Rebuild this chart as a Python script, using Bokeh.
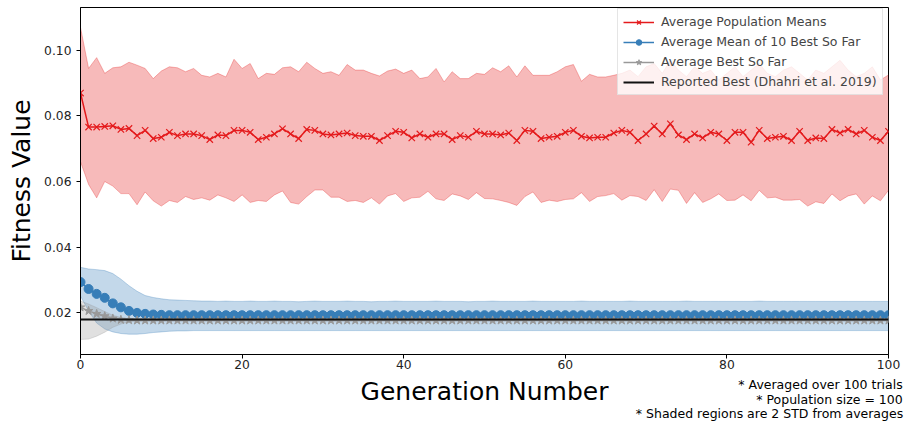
from bokeh.plotting import figure
from bokeh.models import (Legend, LegendItem, FixedTicker, Range1d, PrintfTickFormatter,
                          LinearAxis)
from bokeh.embed import file_html
from bokeh.resources import INLINE

generations = list(range(101))

pop_mean = [0.0870,
    0.0766, 0.0766, 0.0768, 0.0770, 0.0759, 0.0762, 0.0740, 0.0756, 0.0731, 0.0735,
    0.0750, 0.0740, 0.0745, 0.0745, 0.0740, 0.0728, 0.0742, 0.0740, 0.0756, 0.0756,
    0.0750, 0.0728, 0.0735, 0.0745, 0.0761, 0.0745, 0.0731, 0.0759, 0.0756, 0.0745,
    0.0742, 0.0745, 0.0748, 0.0740, 0.0738, 0.0738, 0.0725, 0.0740, 0.0753, 0.0750,
    0.0733, 0.0745, 0.0735, 0.0745, 0.0745, 0.0728, 0.0740, 0.0735, 0.0753, 0.0745,
    0.0745, 0.0742, 0.0748, 0.0725, 0.0756, 0.0753, 0.0731, 0.0735, 0.0738, 0.0750,
    0.0756, 0.0738, 0.0733, 0.0735, 0.0735, 0.0748, 0.0756, 0.0750, 0.0725, 0.0745,
    0.0769, 0.0745, 0.0776, 0.0742, 0.0728, 0.0745, 0.0733, 0.0750, 0.0745, 0.0725,
    0.0750, 0.0750, 0.0720, 0.0756, 0.0731, 0.0735, 0.0738, 0.0725, 0.0753, 0.0725,
    0.0733, 0.0731, 0.0759, 0.0748, 0.0759, 0.0745, 0.0756, 0.0735, 0.0725, 0.0753]

pop_upper = [0.1070,
    0.0945, 0.0978, 0.0930, 0.0947, 0.0950, 0.0964, 0.0955, 0.0945, 0.0914, 0.0937,
    0.0950, 0.0947, 0.0935, 0.0945, 0.0924, 0.0919, 0.0930, 0.0919, 0.0973, 0.0945,
    0.0960, 0.0914, 0.0930, 0.0927, 0.0947, 0.0950, 0.0935, 0.0964, 0.0945, 0.0930,
    0.0935, 0.0924, 0.0957, 0.0940, 0.0940, 0.0930, 0.0922, 0.0937, 0.0943, 0.0930,
    0.0940, 0.0914, 0.0919, 0.0945, 0.0904, 0.0935, 0.0914, 0.0914, 0.0930, 0.0927,
    0.0947, 0.0935, 0.0953, 0.0919, 0.0953, 0.0924, 0.0924, 0.0924, 0.0935, 0.0950,
    0.0957, 0.0906, 0.0927, 0.0919, 0.0919, 0.0924, 0.0930, 0.0940, 0.0920, 0.0950,
    0.0960, 0.0930, 0.0970, 0.0940, 0.0920, 0.0950, 0.0930, 0.0940, 0.0910, 0.0930,
    0.0950, 0.0920, 0.0940, 0.0960, 0.0930, 0.0920, 0.0940, 0.0950, 0.0930, 0.0910,
    0.0940, 0.0930, 0.0950, 0.0970, 0.0940, 0.0920, 0.0930, 0.0950, 0.0910, 0.0925]

pop_lower = [0.0660,
    0.0591, 0.0550, 0.0600, 0.0586, 0.0563, 0.0563, 0.0529, 0.0568, 0.0541, 0.0525,
    0.0542, 0.0536, 0.0554, 0.0545, 0.0550, 0.0543, 0.0559, 0.0550, 0.0539, 0.0559,
    0.0536, 0.0542, 0.0539, 0.0559, 0.0571, 0.0536, 0.0531, 0.0554, 0.0574, 0.0574,
    0.0552, 0.0552, 0.0539, 0.0542, 0.0536, 0.0550, 0.0531, 0.0556, 0.0563, 0.0539,
    0.0550, 0.0552, 0.0570, 0.0547, 0.0542, 0.0562, 0.0556, 0.0545, 0.0566, 0.0548,
    0.0547, 0.0542, 0.0536, 0.0527, 0.0554, 0.0568, 0.0536, 0.0543, 0.0539, 0.0545,
    0.0547, 0.0566, 0.0539, 0.0554, 0.0557, 0.0563, 0.0543, 0.0557, 0.0554, 0.0542,
    0.0575, 0.0539, 0.0577, 0.0573, 0.0533, 0.0566, 0.0536, 0.0547, 0.0562, 0.0542,
    0.0543, 0.0559, 0.0541, 0.0573, 0.0550, 0.0552, 0.0543, 0.0543, 0.0545, 0.0525,
    0.0538, 0.0533, 0.0562, 0.0541, 0.0556, 0.0562, 0.0531, 0.0556, 0.0541, 0.0573]

best10_mean = [0.0293,
    0.0272, 0.0257, 0.0245, 0.0228, 0.0216, 0.0205, 0.0199, 0.0196, 0.0194, 0.0193,
    0.0192, 0.0192, 0.0192, 0.0192, 0.0192, 0.0192, 0.0192, 0.0192, 0.0192, 0.0192,
    0.0192, 0.0192, 0.0192, 0.0192, 0.0192, 0.0192, 0.0192, 0.0192, 0.0192, 0.0192,
    0.0192, 0.0192, 0.0192, 0.0192, 0.0192, 0.0192, 0.0192, 0.0192, 0.0192, 0.0192,
    0.0192, 0.0192, 0.0192, 0.0192, 0.0192, 0.0192, 0.0192, 0.0192, 0.0192, 0.0192,
    0.0192, 0.0192, 0.0192, 0.0192, 0.0192, 0.0192, 0.0192, 0.0192, 0.0192, 0.0192,
    0.0192, 0.0192, 0.0192, 0.0192, 0.0192, 0.0192, 0.0192, 0.0192, 0.0192, 0.0192,
    0.0192, 0.0192, 0.0192, 0.0192, 0.0192, 0.0192, 0.0192, 0.0192, 0.0192, 0.0192,
    0.0192, 0.0192, 0.0192, 0.0192, 0.0192, 0.0192, 0.0192, 0.0192, 0.0192, 0.0192,
    0.0192, 0.0192, 0.0192, 0.0192, 0.0192, 0.0192, 0.0192, 0.0192, 0.0192, 0.0192]

best10_upper = [0.0338,
    0.0333, 0.0331, 0.0328, 0.0319, 0.0302, 0.0282, 0.0265, 0.0252, 0.0246, 0.0242,
    0.0239, 0.0238, 0.0237, 0.0236, 0.0235, 0.0235, 0.0234, 0.0235, 0.0234, 0.0234,
    0.0235, 0.0234, 0.0234, 0.0235, 0.0234, 0.0234, 0.0233, 0.0234, 0.0235, 0.0234,
    0.0234, 0.0234, 0.0235, 0.0234, 0.0234, 0.0233, 0.0234, 0.0234, 0.0235, 0.0234,
    0.0234, 0.0234, 0.0234, 0.0235, 0.0234, 0.0234, 0.0234, 0.0233, 0.0234, 0.0234,
    0.0235, 0.0234, 0.0234, 0.0234, 0.0234, 0.0235, 0.0234, 0.0234, 0.0234, 0.0234,
    0.0234, 0.0235, 0.0234, 0.0234, 0.0234, 0.0234, 0.0234, 0.0235, 0.0234, 0.0234,
    0.0234, 0.0234, 0.0234, 0.0234, 0.0235, 0.0234, 0.0234, 0.0234, 0.0234, 0.0234,
    0.0234, 0.0234, 0.0234, 0.0235, 0.0234, 0.0234, 0.0234, 0.0234, 0.0234, 0.0234,
    0.0234, 0.0234, 0.0234, 0.0234, 0.0234, 0.0234, 0.0234, 0.0234, 0.0234, 0.0234]

best10_lower = [0.0250,
    0.0205, 0.0168, 0.0150, 0.0141, 0.0136, 0.0134, 0.0134, 0.0136, 0.0139, 0.0141,
    0.0143, 0.0144, 0.0144, 0.0145, 0.0145, 0.0145, 0.0145, 0.0145, 0.0145, 0.0145,
    0.0145, 0.0145, 0.0145, 0.0145, 0.0145, 0.0145, 0.0145, 0.0145, 0.0145, 0.0145,
    0.0145, 0.0145, 0.0145, 0.0145, 0.0145, 0.0145, 0.0145, 0.0145, 0.0145, 0.0145,
    0.0145, 0.0145, 0.0145, 0.0145, 0.0145, 0.0145, 0.0145, 0.0145, 0.0145, 0.0145,
    0.0145, 0.0145, 0.0145, 0.0145, 0.0145, 0.0145, 0.0145, 0.0145, 0.0145, 0.0145,
    0.0145, 0.0145, 0.0145, 0.0145, 0.0145, 0.0145, 0.0145, 0.0145, 0.0145, 0.0145,
    0.0145, 0.0145, 0.0145, 0.0145, 0.0145, 0.0145, 0.0145, 0.0145, 0.0145, 0.0145,
    0.0145, 0.0145, 0.0145, 0.0145, 0.0145, 0.0145, 0.0145, 0.0145, 0.0145, 0.0145,
    0.0145, 0.0145, 0.0145, 0.0145, 0.0145, 0.0145, 0.0145, 0.0145, 0.0145, 0.0145]

best_mean = [0.0216,
    0.0205, 0.0196, 0.0189, 0.0182, 0.0178, 0.0177, 0.0176, 0.0176, 0.0176, 0.0176,
    0.0176, 0.0176, 0.0176, 0.0176, 0.0176, 0.0176, 0.0176, 0.0176, 0.0176, 0.0176,
    0.0176, 0.0176, 0.0176, 0.0176, 0.0176, 0.0176, 0.0176, 0.0176, 0.0176, 0.0176,
    0.0176, 0.0176, 0.0176, 0.0176, 0.0176, 0.0176, 0.0176, 0.0176, 0.0176, 0.0176,
    0.0176, 0.0176, 0.0176, 0.0176, 0.0176, 0.0176, 0.0176, 0.0176, 0.0176, 0.0176,
    0.0176, 0.0176, 0.0176, 0.0176, 0.0176, 0.0176, 0.0176, 0.0176, 0.0176, 0.0176,
    0.0176, 0.0176, 0.0176, 0.0176, 0.0176, 0.0176, 0.0176, 0.0176, 0.0176, 0.0176,
    0.0176, 0.0176, 0.0176, 0.0176, 0.0176, 0.0176, 0.0176, 0.0176, 0.0176, 0.0176,
    0.0176, 0.0176, 0.0176, 0.0176, 0.0176, 0.0176, 0.0176, 0.0176, 0.0176, 0.0176,
    0.0176, 0.0176, 0.0176, 0.0176, 0.0176, 0.0176, 0.0176, 0.0176, 0.0176, 0.0176]

best_upper = [0.0235,
    0.0226, 0.0215, 0.0203, 0.0192, 0.0185, 0.0180, 0.0178, 0.0177, 0.0177, 0.0177,
    0.0177, 0.0177, 0.0177, 0.0177, 0.0177, 0.0177, 0.0177, 0.0177, 0.0177, 0.0177,
    0.0177, 0.0177, 0.0177, 0.0177, 0.0177, 0.0177, 0.0177, 0.0177, 0.0177, 0.0177,
    0.0177, 0.0177, 0.0177, 0.0177, 0.0177, 0.0177, 0.0177, 0.0177, 0.0177, 0.0177,
    0.0177, 0.0177, 0.0177, 0.0177, 0.0177, 0.0177, 0.0177, 0.0177, 0.0177, 0.0177,
    0.0177, 0.0177, 0.0177, 0.0177, 0.0177, 0.0177, 0.0177, 0.0177, 0.0177, 0.0177,
    0.0177, 0.0177, 0.0177, 0.0177, 0.0177, 0.0177, 0.0177, 0.0177, 0.0177, 0.0177,
    0.0177, 0.0177, 0.0177, 0.0177, 0.0177, 0.0177, 0.0177, 0.0177, 0.0177, 0.0177,
    0.0177, 0.0177, 0.0177, 0.0177, 0.0177, 0.0177, 0.0177, 0.0177, 0.0177, 0.0177,
    0.0177, 0.0177, 0.0177, 0.0177, 0.0177, 0.0177, 0.0177, 0.0177, 0.0177, 0.0177]

best_lower = [0.0118,
    0.0119, 0.0128, 0.0140, 0.0155, 0.0165, 0.0172, 0.0174, 0.0175, 0.0175, 0.0175,
    0.0175, 0.0175, 0.0175, 0.0175, 0.0175, 0.0175, 0.0175, 0.0175, 0.0175, 0.0175,
    0.0175, 0.0175, 0.0175, 0.0175, 0.0175, 0.0175, 0.0175, 0.0175, 0.0175, 0.0175,
    0.0175, 0.0175, 0.0175, 0.0175, 0.0175, 0.0175, 0.0175, 0.0175, 0.0175, 0.0175,
    0.0175, 0.0175, 0.0175, 0.0175, 0.0175, 0.0175, 0.0175, 0.0175, 0.0175, 0.0175,
    0.0175, 0.0175, 0.0175, 0.0175, 0.0175, 0.0175, 0.0175, 0.0175, 0.0175, 0.0175,
    0.0175, 0.0175, 0.0175, 0.0175, 0.0175, 0.0175, 0.0175, 0.0175, 0.0175, 0.0175,
    0.0175, 0.0175, 0.0175, 0.0175, 0.0175, 0.0175, 0.0175, 0.0175, 0.0175, 0.0175,
    0.0175, 0.0175, 0.0175, 0.0175, 0.0175, 0.0175, 0.0175, 0.0175, 0.0175, 0.0175,
    0.0175, 0.0175, 0.0175, 0.0175, 0.0175, 0.0175, 0.0175, 0.0175, 0.0175, 0.0175]

reported_best = 0.0179

x_ticks = [0, 20, 40, 60, 80, 100]
y_ticks = [0.02, 0.04, 0.06, 0.08, 0.10]

legend_labels = ["Average Population Means", "Average Mean of 10 Best So Far",
                 "Average Best So Far", "Reported Best (Dhahri et al. 2019)"]
notes = ["* Averaged over 100 trials", "* Population size = 100",
         "* Shaded regions are 2 STD from averages"]
# horizontal centres (canvas px) and vertical standoffs of the three note lines
note_centres = [820, 829, 769]
note_standoffs = [5, -3, -3]

RED = "#e41a1c"
BLUE = "#377eb8"
GRAY = "#999999"
FONT = "DejaVu Sans"

p = figure(width=904, height=423, output_backend="svg", toolbar_location=None,
           x_range=Range1d(0, 100), y_range=Range1d(0.0072, 0.1131),
           min_border_left=80, min_border_right=16, min_border_top=7, min_border_bottom=69)
p.extra_x_ranges = {"px": Range1d(80, 888)}

p.background_fill_color = "white"
p.border_fill_color = "white"
p.outline_line_color = "black"
p.outline_line_width = 1
p.xgrid.visible = False
p.ygrid.visible = False

for lo, hi, col in [(pop_lower, pop_upper, RED), (best10_lower, best10_upper, BLUE),
                    (best_lower, best_upper, GRAY)]:
    p.varea(x=generations, y1=lo, y2=hi, fill_color=col, fill_alpha=0.3)
    p.line(generations, lo, line_color=col, line_alpha=0.3, line_width=1)
    p.line(generations, hi, line_color=col, line_alpha=0.3, line_width=1)

r_line = p.line(generations, pop_mean, line_color=RED, line_width=1.5)
r_mark = p.scatter(generations, pop_mean, marker="x", size=9, line_color=RED, line_width=1.2)

b_line = p.line(generations, best10_mean, line_color=BLUE, line_width=1.5)
b_mark = p.scatter(generations, best10_mean, marker="circle", size=9, fill_color=BLUE, line_color=BLUE)

g_line = p.line(generations, best_mean, line_color=GRAY, line_width=1.5)
g_mark = p.scatter(generations, best_mean, marker="star", size=9, fill_color=GRAY, line_color=GRAY)

k_line = p.line([generations[0], generations[-1]], [reported_best, reported_best],
                line_color="#111111", line_width=2)

legend = Legend(items=[
    LegendItem(label=legend_labels[0], renderers=[r_line, r_mark]),
    LegendItem(label=legend_labels[1], renderers=[b_line, b_mark]),
    LegendItem(label=legend_labels[2], renderers=[g_line, g_mark]),
    LegendItem(label=legend_labels[3], renderers=[k_line]),
], location=(537, 259))
legend.label_text_font = FONT
legend.label_text_font_size = "12.5px"
legend.label_height = 14
legend.glyph_height = 14
legend.glyph_width = 31
legend.spacing = 5
legend.padding = 5
legend.margin = 0
legend.label_standoff = 7
legend.background_fill_alpha = 0.8
legend.border_line_color = "#cccccc"
legend.border_line_width = 1
p.add_layout(legend)

for ax in (p.xaxis[0], p.yaxis[0]):
    ax.axis_line_color = "black"
    ax.major_tick_line_color = "black"
    ax.minor_tick_line_color = None
    ax.major_tick_out = 4
    ax.major_tick_in = 0
    ax.major_label_text_font = FONT
    ax.major_label_text_font_size = "12.3px"
    ax.major_label_text_color = "#222222"
    ax.axis_label_text_font = FONT
    ax.axis_label_text_font_size = "25px"
    ax.axis_label_text_font_style = "normal"
    ax.axis_label_text_color = "black"

p.xaxis.ticker = FixedTicker(ticks=x_ticks)
p.yaxis.ticker = FixedTicker(ticks=y_ticks)
p.yaxis.formatter = PrintfTickFormatter(format="%.2f")
p.xaxis.major_label_standoff = 1
p.yaxis.axis_label = "Fitness Value"
p.yaxis.major_label_standoff = 5
p.yaxis.axis_label_standoff = 5

# note lines (and the x axis title) carried by label-only axes below the main x axis
for i, (txt, cx, so) in enumerate(zip(notes, note_centres, note_standoffs)):
    ax = LinearAxis(x_range_name="px", ticker=FixedTicker(ticks=[cx]),
                    major_label_overrides={cx: txt})
    ax.axis_line_color = None
    ax.major_tick_line_color = None
    ax.minor_tick_line_color = None
    ax.major_tick_out = 0
    ax.major_tick_in = 0
    ax.minor_tick_out = 0
    ax.major_label_standoff = so
    ax.major_label_text_font = FONT
    ax.major_label_text_font_size = "12.5px"
    ax.major_label_text_color = "black"
    if i == 1:
        ax.axis_label = "Generation Number"
        ax.axis_label_text_font = FONT
        ax.axis_label_text_font_size = "25px"
        ax.axis_label_text_font_style = "normal"
        ax.axis_label_text_color = "black"
        ax.axis_label_standoff = -33
    p.add_layout(ax, "below")

open("out.html", "w").write(file_html(p, INLINE))
